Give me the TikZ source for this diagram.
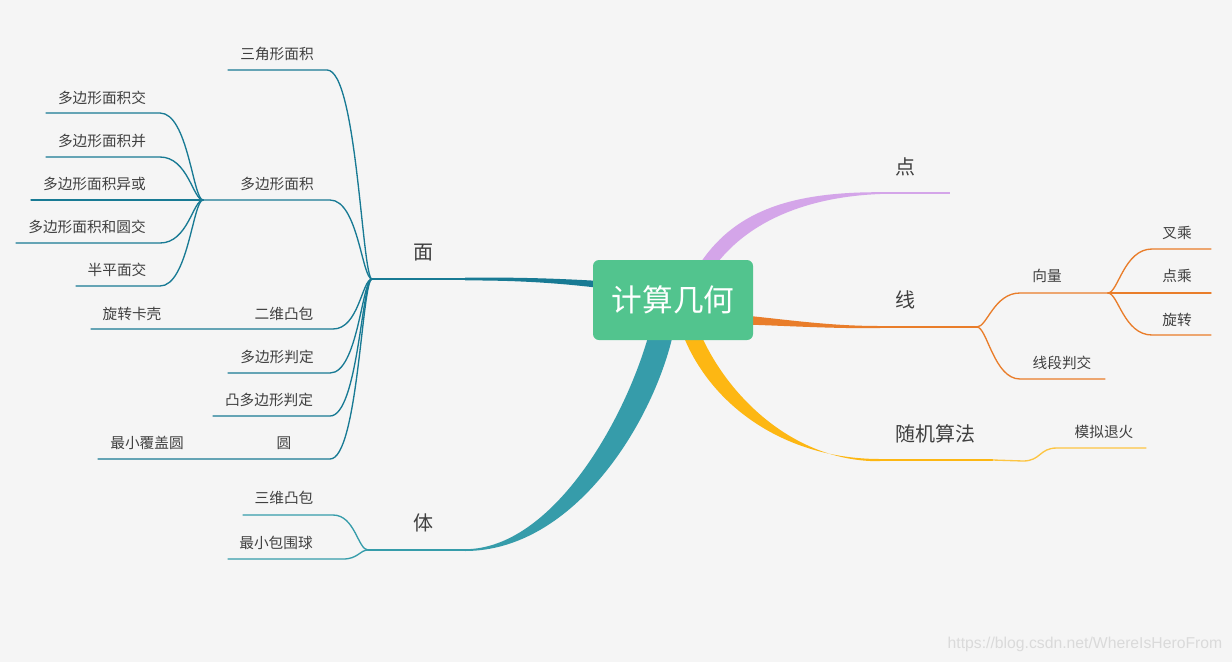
\documentclass[tikz,border=0pt]{standalone}
\usepackage{fontspec}
\newfontfamily\cjk{Noto Sans CJK SC}
\newfontfamily\wmfont{Liberation Sans}
\definecolor{bg}{HTML}{F5F5F5}
\definecolor{cmian}{HTML}{187A94}
\definecolor{cti}{HTML}{369CAA}
\definecolor{cxian}{HTML}{E97D2A}
\definecolor{cdian}{HTML}{D4A5E9}
\definecolor{csuiji}{HTML}{FDB713}
\definecolor{croot}{HTML}{52C48E}
\definecolor{ctxt}{HTML}{404040}
\definecolor{cwm}{HTML}{DADADA}
\begin{document}
\begin{tikzpicture}[x=0.75pt,y=-0.75pt,
  lbl/.style={font=\cjk\fontsize{11}{13}\selectfont, text=ctxt, inner sep=0pt},
  biglbl/.style={font=\cjk\fontsize{15}{17}\selectfont, text=ctxt, inner sep=0pt},
  rootbox/.style={fill=croot, rounded corners=4.5pt, minimum width=120pt, minimum height=60pt, inner sep=0pt, text=white, font=\cjk\fontsize{23}{25}\selectfont},
  thin/.style={line width=1pt, line cap=round},
  mid/.style={line width=1.6pt},
]
\fill[bg] (0,0) rectangle (1232,662);
\useasboundingbox (0,0) rectangle (1232,662);

% ---------- coordinates ----------
\coordinate (M) at (372,279);   % 面 branch point
\coordinate (Mend) at (466,279);
\coordinate (Q) at (203,200);   % 多边形面积 branch point
\coordinate (B) at (368,550);   % 体 branch point
\coordinate (Bend) at (466,550);
\coordinate (Dend) at (880,193);
\coordinate (Dtail) at (950,193);
\coordinate (Xend) at (880,327);
\coordinate (L) at (977,327);   % 线 branch point
\coordinate (V) at (1108,293);  % 向量 branch point
\coordinate (Send) at (880,460);
\coordinate (S) at (993,460);

% ---------- thick tapered main branches ----------
\fill[cmian] (600,281) .. controls (550,278) and (510,277.3) .. (465,277.6) -- (465,280.4) .. controls (510,280.4) and (550,282) .. (600,288) -- cycle;
\fill[cti] (650,330) .. controls (626,420) and (552,549) .. (465,549.2) -- (465,551) .. controls (575,551) and (655,420) .. (674,330) -- cycle;
\fill[cdian] (701,262) .. controls (737,209) and (795,192) .. (880,192.2) -- (880,194) .. controls (805,197) and (750,222) .. (718,262) -- cycle;
\fill[cxian] (745,315.5) .. controls (790,320) and (830,326) .. (880,326) -- (880,328.2) .. controls (830,328.5) and (790,326) .. (745,324.5) -- cycle;
\fill[csuiji] (683,335) .. controls (711,406) and (785,459) .. (880,459) -- (880,461.2) .. controls (797,462) and (730,400) .. (701,335) -- cycle;

% ---------- main thin continuations ----------
\draw[cmian, mid] (Mend) -- (M);
\draw[cti, line width=1.2pt] (Bend) -- (B);
\draw[cdian, line width=1.4pt] (Dend) -- (Dtail);
\draw[cxian, line width=1.6pt] (Xend) -- (L);
\draw[csuiji, line width=1.8pt] (Send) -- (S);

% ---------- root ----------
\node[rootbox] (root) at (673,300) {计算几何};

% ---------- main labels ----------
\node[biglbl] (mian) at (423,253) {面};
\node[biglbl] (ti) at (423,523) {体};
\node[biglbl] (dian) at (905,167) {点};
\node[biglbl] (xian) at (905,300) {线};
\node[biglbl] (suiji) at (935.5,434) {随机算法};

% ---------- 面 children ----------
\node[lbl] (sjmj) at (277,54) {三角形面积};
\coordinate (sjL) at (228,70); \coordinate (sjR) at (327,70);
\draw[cmian, thin] (sjL) -- (sjR) .. controls +(30,0) and +(-10,0) .. (M);

\node[lbl] (dbxmj) at (277,184) {多边形面积};
\coordinate (dbR) at (330,200);
\draw[cmian, thin] (Q) -- (dbR) .. controls +(28,0) and +(-10,0) .. (M);

\node[lbl] (ewtb) at (284,314) {二维凸包};
\node[lbl] (xzkk) at (132,314) {旋转卡壳};
\coordinate (ewL) at (91,329); \coordinate (ewM) at (245,329); \coordinate (ewR) at (333,329);
\draw[cmian, thin] (ewL) -- (ewM) -- (ewR) .. controls +(26,0) and +(-10,0) .. (M);

\node[lbl] (dbxpd) at (277,357) {多边形判定};
\coordinate (pdL) at (228,373); \coordinate (pdR) at (330,373);
\draw[cmian, thin] (pdL) -- (pdR) .. controls +(28,0) and +(-10,0) .. (M);

\node[lbl] (tdbx) at (269,400) {凸多边形判定};
\coordinate (tdL) at (213,416); \coordinate (tdR) at (330,416);
\draw[cmian, thin] (tdL) -- (tdR) .. controls +(28,0) and +(-10,0) .. (M);

\node[lbl] (yuan) at (284,443) {圆};
\node[lbl] (zxfg) at (147,443) {最小覆盖圆};
\coordinate (yL) at (98,459); \coordinate (yM) at (245,459); \coordinate (yR) at (330,459);
\draw[cmian, thin] (yL) -- (yM) -- (yR) .. controls +(28,0) and +(-10,0) .. (M);

% ---------- 多边形面积 children ----------
\node[lbl] (jiao) at (102,98) {多边形面积交};
\coordinate (jL) at (46,113); \coordinate (jR) at (160,113);
\draw[cmian, thin] (jL) -- (jR) .. controls +(28,0) and +(-10,0) .. (Q);

\node[lbl] (bing) at (102,141) {多边形面积并};
\coordinate (bL) at (46,157); \coordinate (bR) at (160,157);
\draw[cmian, thin] (bL) -- (bR) .. controls +(28,0) and +(-10,0) .. (Q);

\node[lbl] (yihuo) at (94.5,184) {多边形面积异或};
\coordinate (yhL) at (31,200);
\draw[cmian, thin] (yhL) -- (Q);

\node[lbl] (hyj) at (87,227) {多边形面积和圆交};
\coordinate (hL) at (16,243); \coordinate (hR) at (160,243);
\draw[cmian, thin] (hL) -- (hR) .. controls +(28,0) and +(-10,0) .. (Q);

\node[lbl] (bpmj) at (117,270) {半平面交};
\coordinate (pL) at (76,286); \coordinate (pR) at (160,286);
\draw[cmian, thin] (pL) -- (pR) .. controls +(28,0) and +(-10,0) .. (Q);

% ---------- 体 children ----------
\node[lbl] (swtb) at (284,498) {三维凸包};
\coordinate (swL) at (243,515); \coordinate (swR) at (333,515);
\draw[cti, thin] (swL) -- (swR) .. controls +(22,0) and +(-10,0) .. (B);

\node[lbl] (zxbw) at (276,543) {最小包围球};
\coordinate (zbL) at (228,559); \coordinate (zbR) at (343,559);
\draw[cti, thin] (zbL) -- (zbR) .. controls +(15,0) and +(-8,0) .. (B);

% ---------- 线 children ----------
\node[lbl] (xl) at (1047,276) {向量};
\coordinate (xlL) at (1020,293);
\draw[cxian, thin] (L) .. controls +(10,0) and +(-26,0) .. (xlL) -- (V);

\node[lbl] (xdpj) at (1062,363) {线段判交};
\coordinate (xdL) at (1020,379); \coordinate (xdR) at (1105,379);
\draw[cxian, thin] (L) .. controls +(10,0) and +(-26,0) .. (xdL) -- (xdR);

% ---------- 向量 children ----------
\node[lbl] (cc) at (1177,233) {叉乘};
\coordinate (ccL) at (1152,249); \coordinate (ccR) at (1211,249);
\draw[cxian, thin] (V) .. controls +(10,0) and +(-28,0) .. (ccL) -- (ccR);

\node[lbl] (dc) at (1177,276) {点乘};
\coordinate (dcR) at (1211,293);
\draw[cxian, thin] (V) -- (dcR);

\node[lbl] (xz) at (1177,320) {旋转};
\coordinate (xzL) at (1152,335); \coordinate (xzR) at (1211,335);
\draw[cxian, thin] (V) .. controls +(10,0) and +(-28,0) .. (xzL) -- (xzR);

% ---------- 随机算法 child ----------
\node[lbl] (mnth) at (1104,432) {模拟退火};
\coordinate (mA) at (1023,461); \coordinate (mB) at (1057,448); \coordinate (mR) at (1146,448);
\draw[csuiji!80, thin] (S) -- (mA) .. controls +(18,0) and +(-18,0) .. (mB) -- (mR);

% ---------- watermark ----------
\node[font=\wmfont\fontsize{11.8}{13}\selectfont, text=cwm, inner sep=0pt] (wm) at (1085,644) {https://blog.csdn.net/WhereIsHeroFrom};
\end{tikzpicture}
\end{document}
